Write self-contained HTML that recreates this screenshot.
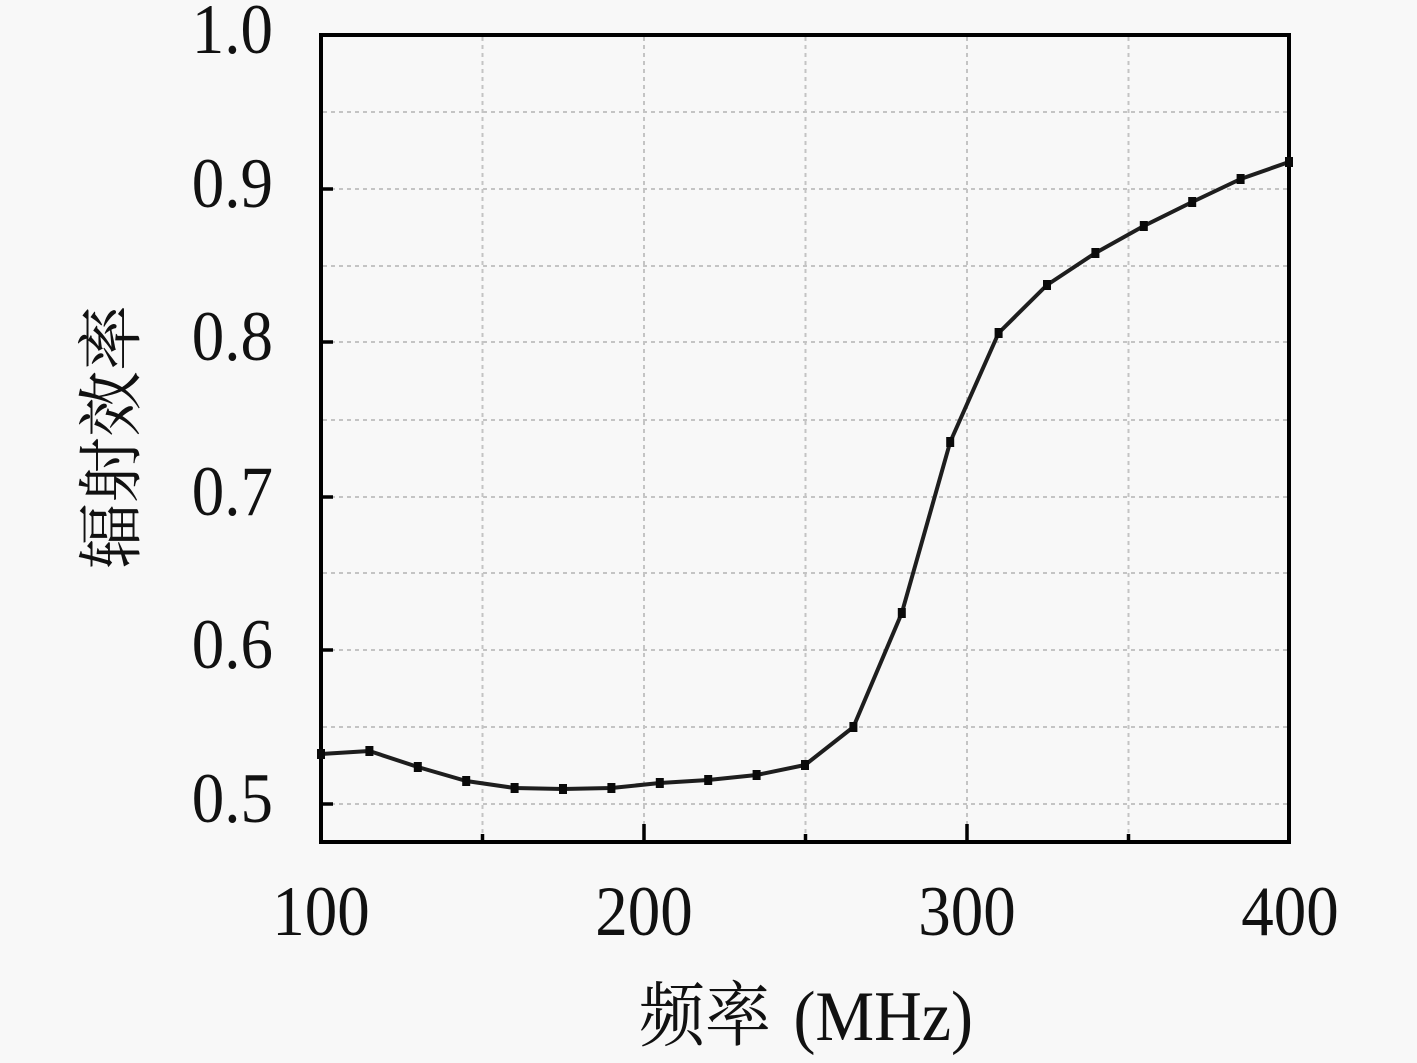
<!DOCTYPE html>
<html>
<head>
<meta charset="utf-8">
<style>
html,body{margin:0;padding:0;background:#f8f8f8;}
svg{display:block;}
text{font-family:"Liberation Serif","Noto Serif CJK SC",serif;fill:#111;}
</style>
</head>
<body>
<svg width="1417" height="1063" viewBox="0 0 1417 1063" xmlns="http://www.w3.org/2000/svg">
<rect x="0" y="0" width="1417" height="1063" fill="#f8f8f8"/>
<!-- grid -->
<g stroke="#c4c4c4" stroke-width="2" stroke-dasharray="4,4" fill="none">
  <line x1="323" y1="112" x2="1287" y2="112"/>
  <line x1="323" y1="189" x2="1287" y2="189"/>
  <line x1="323" y1="266" x2="1287" y2="266"/>
  <line x1="323" y1="342" x2="1287" y2="342"/>
  <line x1="323" y1="420" x2="1287" y2="420"/>
  <line x1="323" y1="497" x2="1287" y2="497"/>
  <line x1="323" y1="573" x2="1287" y2="573"/>
  <line x1="323" y1="650" x2="1287" y2="650"/>
  <line x1="323" y1="727" x2="1287" y2="727"/>
  <line x1="323" y1="804" x2="1287" y2="804"/>
  <line x1="482.5" y1="37" x2="482.5" y2="840"/>
  <line x1="644" y1="37" x2="644" y2="840"/>
  <line x1="805.5" y1="37" x2="805.5" y2="840"/>
  <line x1="967" y1="37" x2="967" y2="840"/>
  <line x1="1128.5" y1="37" x2="1128.5" y2="840"/>
</g>
<!-- ticks -->
<g stroke="#000" stroke-width="3.5">
  <line x1="321" y1="189" x2="333" y2="189"/>
  <line x1="321" y1="342" x2="333" y2="342"/>
  <line x1="321" y1="497" x2="333" y2="497"/>
  <line x1="321" y1="650" x2="333" y2="650"/>
  <line x1="321" y1="804" x2="333" y2="804"/>
  <line x1="482.5" y1="842" x2="482.5" y2="834"/>
  <line x1="644" y1="842" x2="644" y2="824"/>
  <line x1="805.5" y1="842" x2="805.5" y2="834"/>
  <line x1="967" y1="842" x2="967" y2="824"/>
  <line x1="1128.5" y1="842" x2="1128.5" y2="834"/>
</g>
<!-- axes frame -->
<rect x="321" y="35" width="968" height="807" fill="none" stroke="#000" stroke-width="4"/>
<!-- data line -->
<polyline fill="none" stroke="#1e1e1e" stroke-width="4" stroke-linejoin="round"
 points="321,754 369.4,751 417.8,767 466.2,781 514.6,788 563,789 611.4,788 659.8,783 708.2,780 756.6,775 805,765 853.4,727 901.8,613 950.2,442 998.6,333 1047,285 1095.4,253 1143.8,226 1192.2,202 1240.6,179 1289,162"/>
<g fill="#0a0a0a">
  <rect x="317" y="749" width="8" height="10"/>
  <rect x="365.4" y="746" width="8" height="10"/>
  <rect x="413.8" y="762" width="8" height="10"/>
  <rect x="462.2" y="776" width="8" height="10"/>
  <rect x="510.6" y="783" width="8" height="10"/>
  <rect x="559" y="784" width="8" height="10"/>
  <rect x="607.4" y="783" width="8" height="10"/>
  <rect x="655.8" y="778" width="8" height="10"/>
  <rect x="704.2" y="775" width="8" height="10"/>
  <rect x="752.6" y="770" width="8" height="10"/>
  <rect x="801" y="760" width="8" height="10"/>
  <rect x="849.4" y="722" width="8" height="10"/>
  <rect x="897.8" y="608" width="8" height="10"/>
  <rect x="946.2" y="437" width="8" height="10"/>
  <rect x="994.6" y="328" width="8" height="10"/>
  <rect x="1043" y="280" width="8" height="10"/>
  <rect x="1091.4" y="248" width="8" height="10"/>
  <rect x="1139.8" y="221" width="8" height="10"/>
  <rect x="1188.2" y="197" width="8" height="10"/>
  <rect x="1236.6" y="174" width="8" height="10"/>
  <rect x="1285" y="157" width="8" height="10"/>
</g>
<!-- y tick labels -->
<g font-size="65" text-anchor="end">
  <text transform="translate(273,53) scale(1,1.1)">1.0</text>
  <text transform="translate(273,207) scale(1,1.1)">0.9</text>
  <text transform="translate(273,360) scale(1,1.1)">0.8</text>
  <text transform="translate(273,515) scale(1,1.1)">0.7</text>
  <text transform="translate(273,668) scale(1,1.1)">0.6</text>
  <text transform="translate(273,822) scale(1,1.1)">0.5</text>
</g>
<!-- x tick labels -->
<g font-size="65" text-anchor="middle">
  <text transform="translate(321,935) scale(1,1.1)">100</text>
  <text transform="translate(644,935) scale(1,1.1)">200</text>
  <text transform="translate(967,935) scale(1,1.1)">300</text>
  <text transform="translate(1290,935) scale(1,1.1)">400</text>
</g>
<!-- axis titles -->
<text transform="translate(806,1040) scale(1,1.08)" font-size="66" text-anchor="middle">频率 <tspan dx="6">(MHz)</tspan></text>
<text transform="translate(134,437) rotate(-90)" font-size="66" text-anchor="middle">辐射效率</text>
</svg>
</body>
</html>
